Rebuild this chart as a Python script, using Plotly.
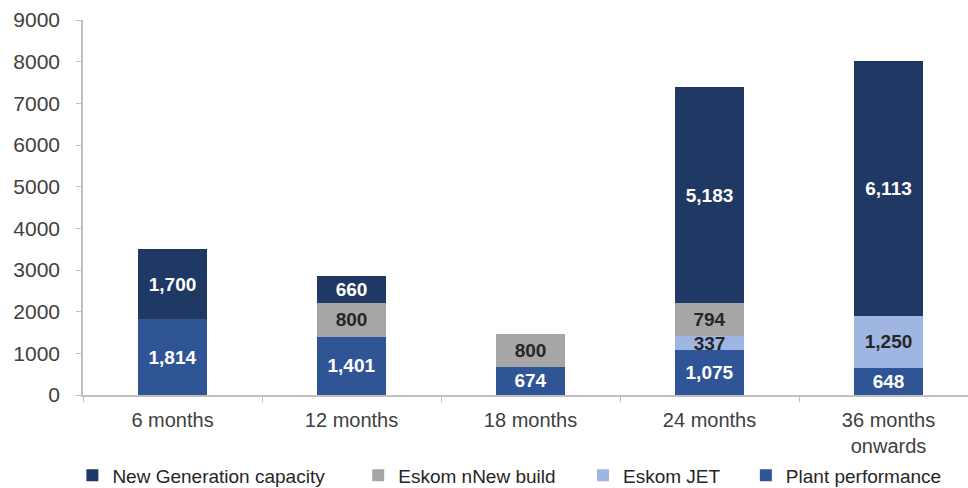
import plotly.graph_objects as go

# Categories along the x axis
periods = ["6 months", "12 months", "18 months", "24 months", "36 months<br>onwards"]

# Stacked series (MW), bottom to top
plant_performance = [1814, 1401, 674, 1075, 648]
eskom_jet = [0, 0, 0, 337, 1250]
eskom_new_build = [0, 800, 800, 794, 0]
new_generation = [1700, 660, 0, 5183, 6113]

y_ticks = [0, 1000, 2000, 3000, 4000, 5000, 6000, 7000, 8000, 9000]

# name, values, fill colour, label colour, legend id, legend x (paper fraction)
series = [
    ("Plant performance", plant_performance, "#2F5597", "white", "legend4", 0.749),
    ("Eskom JET", eskom_jet, "#9FB6E3", "#262626", "legend3", 0.565),
    ("Eskom nNew build", eskom_new_build, "#A6A6A6", "#262626", "legend2", 0.311),
    ("New Generation capacity", new_generation, "#1F3864", "white", "legend", -0.012),
]

fig = go.Figure()
legend_layouts = {}
for name, vals, color, txt_color, leg_id, leg_x in series:
    fig.add_trace(go.Bar(
        name=name,
        x=periods,
        y=vals,
        legend=leg_id,
        marker=dict(color=color, line=dict(width=0)),
        text=[f"{v:,}" if v else "" for v in vals],
        textposition="inside",
        insidetextanchor="middle",
        textangle=0,
        textfont=dict(family="Liberation Sans, Arial, sans-serif", size=19,
                      color=txt_color, weight="bold"),
        cliponaxis=False,
    ))
    legend_layouts[leg_id] = dict(
        orientation="h",
        x=leg_x,
        xanchor="left",
        xref="paper",
        y=-0.164,
        yanchor="top",
        font=dict(size=19, color="#262626"),
        itemwidth=30,
        bgcolor="rgba(0,0,0,0)",
    )

fig.update_layout(
    width=968,
    height=488,
    barmode="stack",
    bargap=0.61,
    plot_bgcolor="white",
    paper_bgcolor="white",
    margin=dict(l=83, r=0, t=20, b=93, autoexpand=False),
    font=dict(family="Liberation Sans, Arial, sans-serif", color="#404040"),
    uniformtext=dict(minsize=19, mode="show"),
    showlegend=True,
    **legend_layouts,
)

fig.update_xaxes(
    range=[-0.5, 4.444],
    showline=True,
    linecolor="#BFBFBF",
    linewidth=1.5,
    ticks="outside",
    tickson="boundaries",
    ticklen=5,
    tickcolor="#BFBFBF",
    ticklabelstandoff=6,
    tickfont=dict(size=20, color="#404040"),
    showgrid=False,
    zeroline=False,
    automargin=False,
)

fig.update_yaxes(
    range=[0, 9000],
    tickvals=y_ticks,
    ticktext=[str(t) for t in y_ticks],
    showline=True,
    linecolor="#BFBFBF",
    linewidth=1.5,
    ticks="outside",
    ticklen=5,
    tickcolor="#BFBFBF",
    ticklabelstandoff=12,
    tickfont=dict(size=21, color="#404040"),
    showgrid=False,
    zeroline=False,
    automargin=False,
)

fig.write_html("out.html")
